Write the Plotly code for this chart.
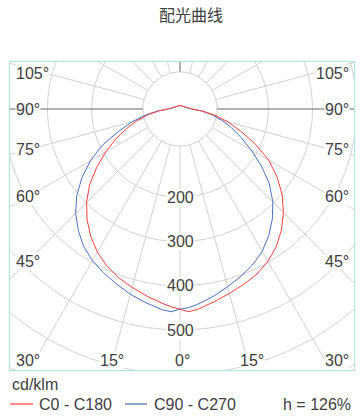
import numpy as np
import plotly.graph_objects as go

# ---------------- data ----------------
title_text = "配光曲线"
gamma = [0, 2.5, 5, 10, 15, 20, 25, 30, 35, 40, 45, 50, 55, 60, 65, 70, 75, 80, 85, 90, 180]
c0 = [453, 459, 455, 443, 432, 422, 412, 398, 380, 357, 331, 302, 268, 232, 188, 146, 112, 80, 50, 27, 8]
c180 = [453, 448, 442, 430, 418, 406, 392, 374, 352, 327, 299, 267, 230, 194, 160, 128, 100, 72, 48, 27, 8]
c90 = [453, 450, 444, 431, 416, 403, 389, 372, 350, 325, 297, 264, 225, 186, 152, 124, 98, 72, 48, 27, 8]
c270 = [453, 459, 456, 445, 434, 421, 409, 396, 380, 358, 334, 305, 271, 234, 194, 148, 112, 80, 50, 27, 8]
ring_values = [200, 300, 400, 500, 600, 700]
ring_labels = ["200", "300", "400", "500"]
spoke_angles = list(range(0, 360, 15))
side_tick_angles = [45, 60, 75, 90, 105]
bottom_tick_angles = [0, 15, 30]
unit_label = "cd/klm"
series_names = ["C0 - C180", "C90 - C270"]
efficiency_text = "h = 126%"

# ---------------- geometry / style ----------------
W, H = 363, 417
PX = 0.442                 # pixels per cd/klm
CX, CY = 180, 109          # polar centre in page pixels
L, R, T, B = 10, 354, 62, 370   # plot window in page pixels
INNER_R = 84               # radius where spokes start (cd/klm)
GRID = "#d2d2d2"
DARK = "#666666"
TXT = "#404040"
RED = "#ff4040"
BLUE = "#4a72bf"
RED_KEY = "#ff1a1a"
BLUE_KEY = "#1f4c9c"
FONT = "Liberation Sans, Arial, sans-serif"

x_range = [(L - CX) / PX, (R - CX) / PX]
y_range = [-(B - CY) / PX, (CY - T) / PX]


def pol(vals, angs, side):
    a = np.radians(np.asarray(angs, dtype=float))
    v = np.asarray(vals, dtype=float)
    return side * v * np.sin(a), -v * np.cos(a)


fig = go.Figure()

# rings + inner circle
t = np.linspace(0, 2 * np.pi, 721)
gx, gy = [], []
for v in [INNER_R] + ring_values:
    gx += list(v * np.sin(t)) + [None]
    gy += list(v * np.cos(t)) + [None]
# light spokes
for a in spoke_angles:
    if a in (90, 180, 270):
        continue
    ar = np.radians(a)
    gx += [INNER_R * np.sin(ar), 1200 * np.sin(ar), None]
    gy += [-INNER_R * np.cos(ar), -1200 * np.cos(ar), None]
fig.add_trace(go.Scatter(x=gx, y=gy, mode="lines", line=dict(color=GRID, width=1),
                         hoverinfo="skip", showlegend=False))
# dark spokes (horizontal and upward)
dx, dy = [], []
for a in (90, 180, 270):
    ar = np.radians(a)
    dx += [INNER_R * np.sin(ar), 1200 * np.sin(ar), None]
    dy += [-INNER_R * np.cos(ar), -1200 * np.cos(ar), None]
fig.add_trace(go.Scatter(x=dx, y=dy, mode="lines", line=dict(color=DARK, width=1),
                         hoverinfo="skip", showlegend=False))

# curves
def closed(right_vals, left_vals):
    xr, yr = pol(right_vals, gamma, 1)
    xl, yl = pol(left_vals[::-1], gamma[::-1], -1)
    return np.concatenate([xr, xl]), np.concatenate([yr, yl])

bx, by = closed(c90, c270)
fig.add_trace(go.Scatter(x=bx, y=by, mode="lines", line=dict(color=BLUE, width=1),
                         name=series_names[1], showlegend=False))
rx, ry = closed(c0, c180)
fig.add_trace(go.Scatter(x=rx, y=ry, mode="lines", line=dict(color=RED, width=1),
                         name=series_names[0], showlegend=False))

ann = []
lab_font = dict(family=FONT, size=16, color=TXT)
# radial labels
for s in ring_labels:
    v = float(s)
    ann.append(dict(x=0, y=-v, xref="x", yref="y", text=s, showarrow=False,
                    font=lab_font, bgcolor="white", borderpad=0,
                    xanchor="center", yanchor="middle"))
# side angle labels
x_in = (CX - 28) / PX
y_top = (CY - 73) / PX
for a in side_tick_angles:
    yv = -x_in / np.tan(np.radians(a)) if a != 90 else 0.0
    yv = min(yv, y_top)
    for side in (-1, 1):
        ann.append(dict(x=((15 - CX) / PX) if side < 0 else ((350 - CX) / PX), y=yv,
                        xref="x", yref="y", text=f"{a}°", showarrow=False,
                        font=lab_font, bgcolor="white", borderpad=0,
                        xanchor="left" if side < 0 else "right", yanchor="middle"))
# bottom angle labels
y_bot = -(360 - CY) / PX
for a in bottom_tick_angles:
    for side in ((1,) if a == 0 else (-1, 1)):
        if a == 30:
            xv = ((15 - CX) / PX) if side < 0 else ((350 - CX) / PX)
            xa = "left" if side < 0 else "right"
        else:
            xv = side * np.tan(np.radians(a)) * (B - CY) / PX + 2 / PX
            xa = "center"
        ann.append(dict(x=xv, y=y_bot, xref="x", yref="y", text=f"{a}°",
                        showarrow=False, font=lab_font, bgcolor="white", borderpad=0,
                        xanchor=xa, yanchor="middle"))

# footer texts (paper coords)
def px_x(p):
    return (p - L) / (R - L)

def px_y(p):
    return (B - p) / (B - T)

ann.append(dict(x=px_x(10), y=px_y(384.5), xref="paper", yref="paper", text=unit_label,
                showarrow=False, font=lab_font, xanchor="left", yanchor="middle"))
ann.append(dict(x=px_x(37), y=px_y(404.5), xref="paper", yref="paper", text=series_names[0],
                showarrow=False, font=lab_font, xanchor="left", yanchor="middle"))
ann.append(dict(x=px_x(152), y=px_y(404.5), xref="paper", yref="paper", text=series_names[1],
                showarrow=False, font=lab_font, xanchor="left", yanchor="middle"))
ann.append(dict(x=px_x(353), y=px_y(404.5), xref="paper", yref="paper", text=efficiency_text,
                showarrow=False, font=lab_font, xanchor="right", yanchor="middle"))

shapes = [
    dict(type="line", xref="paper", yref="paper", x0=px_x(10), x1=px_x(33),
         y0=px_y(404), y1=px_y(404), line=dict(color=RED_KEY, width=1)),
    dict(type="line", xref="paper", yref="paper", x0=px_x(125), x1=px_x(147),
         y0=px_y(404), y1=px_y(404), line=dict(color=BLUE_KEY, width=1)),
]

axis_common = dict(showgrid=False, zeroline=False, showticklabels=False, ticks="",
                   showline=True, mirror=True, linecolor="#b2e2e6", linewidth=1,
                   fixedrange=True)
fig.update_layout(
    width=W, height=H,
    margin=dict(l=L, r=W - R, t=T, b=H - B, pad=0),
    paper_bgcolor="white", plot_bgcolor="white",
    title=dict(text=title_text, x=191 / W, xref="container", xanchor="center",
               y=1 - 15.5 / H, yref="container", yanchor="middle",
               font=dict(family="Noto Sans CJK SC", size=16, color=TXT)),
    xaxis=dict(range=x_range, **axis_common),
    yaxis=dict(range=y_range, **axis_common),
    annotations=ann, shapes=shapes, showlegend=False,
)

fig.write_html("out.html", config={"displayModeBar": False},
               post_script="document.body.style.margin='0';document.body.style.overflow='hidden';")
